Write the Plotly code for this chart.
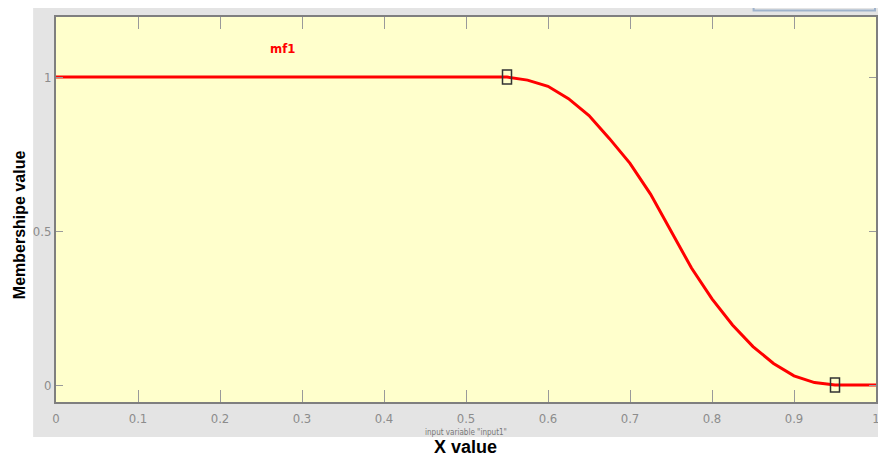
import plotly.graph_objects as go

# ---- data ----
x_vals = [0.0, 0.55, 0.575, 0.6, 0.625, 0.65, 0.675, 0.7, 0.725, 0.75, 0.775,
          0.8, 0.825, 0.85, 0.875, 0.9, 0.925, 0.95, 1.0]
mu_vals = [1.0, 1.0, 0.99, 0.97, 0.93, 0.875, 0.80, 0.72, 0.62, 0.50, 0.38,
           0.28, 0.195, 0.125, 0.07, 0.03, 0.008, 0.0, 0.0]
param_x = [0.55, 0.95]
param_y = [1.0, 0.0]
x_ticks = [0, 0.1, 0.2, 0.3, 0.4, 0.5, 0.6, 0.7, 0.8, 0.9, 1]
x_tick_labels = ["0", "0.1", "0.2", "0.3", "0.4", "0.5", "0.6", "0.7", "0.8", "0.9", "1"]
y_ticks = [0, 0.5, 1]
y_tick_labels = ["0", "0.5", "1"]
mf_name = "mf1"
mf_label_pos = (0.276, 1.094)

OFF = 8  # page body margin
W, H = 886 - OFF, 458 - OFF
L, R, T, B = 56 - OFF, 6, 17 - OFF, 56
PW, PH = W - L - R, H - T - B


def px(xp):
    return (xp - OFF - L) / PW


def py(yp):
    return (H - B - (yp - OFF)) / PH


narrow = "Liberation Sans Narrow, Arial Narrow, DejaVu Sans Condensed, sans-serif"
bold = "Liberation Sans, Arial, sans-serif"

fig = go.Figure()
fig.add_trace(go.Scatter(x=x_vals, y=mu_vals, mode="lines",
                         line=dict(color="#ff0000", width=3), hoverinfo="skip",
                         showlegend=False))

shapes = [
    dict(type="rect", xref="paper", yref="paper", x0=px(33), x1=px(890), y0=py(437), y1=py(8),
         fillcolor="#e4e4e4", line=dict(width=0), layer="below"),
    dict(type="rect", xref="paper", yref="paper", x0=0, x1=1, y0=0, y1=1,
         fillcolor="#ffffcc", line=dict(width=0), layer="below"),
    dict(type="path", xref="paper", yref="paper",
         path=f"M {px(757)} {py(6)} L {px(757)} {py(10.5)} L {px(879)} {py(10.5)} L {px(879)} {py(6)}",
         line=dict(color="#9fb3cc", width=2), layer="below"),
]
for xv, yv in zip(param_x, param_y):
    shapes.append(dict(type="rect", xref="x", yref="y", xsizemode="pixel", ysizemode="pixel",
                       xanchor=xv, yanchor=yv, x0=-4.5, x1=4.5, y0=-7, y1=7,
                       line=dict(color="#333333", width=1.5), fillcolor="rgba(0,0,0,0)",
                       layer="above"))

annotations = [
    dict(x=mf_label_pos[0], y=mf_label_pos[1], xref="x", yref="y", text=f"<b>{mf_name}</b>",
         showarrow=False, font=dict(family=narrow, size=13, color="#ff0000")),
    dict(x=px(20), y=py(225), xref="paper", yref="paper", text="<b>Membershipe value</b>",
         textangle=-90, showarrow=False, font=dict(family=bold, size=16, color="#000000"),
         xanchor="center", yanchor="middle"),
    dict(x=px(467), y=py(447), xref="paper", yref="paper", text="<b>X value</b>",
         showarrow=False, font=dict(family=bold, size=18, color="#000000"),
         xanchor="center", yanchor="middle"),
    dict(x=px(468), y=py(433), xref="paper", yref="paper", text='input variable "input1"',
         showarrow=False, font=dict(family=narrow, size=8, color="#777777"),
         xanchor="center", yanchor="middle"),
]

fig.update_layout(
    width=W, height=H,
    margin=dict(l=L, r=R, t=T, b=B, pad=0),
    paper_bgcolor="#ffffff",
    plot_bgcolor="rgba(0,0,0,0)",
    shapes=shapes,
    annotations=annotations,
    xaxis=dict(range=[0, 1], tickvals=x_ticks, ticktext=x_tick_labels,
               ticks="inside", ticklen=12, tickwidth=1, tickcolor="#9a9a9a",
               showline=True, linecolor="#7f7f7f", linewidth=2, mirror="ticks",
               showgrid=False, zeroline=False, ticklabelstandoff=3,
               tickfont=dict(family=narrow, size=13, color="#8c8c8c")),
    yaxis=dict(range=[-0.055, 1.195], tickvals=y_ticks, ticktext=y_tick_labels,
               ticks="inside", ticklen=7, tickwidth=1, tickcolor="#9a9a9a",
               showline=True, linecolor="#7f7f7f", linewidth=2, mirror="ticks",
               showgrid=False, zeroline=False,
               tickfont=dict(family=narrow, size=13, color="#8c8c8c")),
)

fig.write_html("out.html")
